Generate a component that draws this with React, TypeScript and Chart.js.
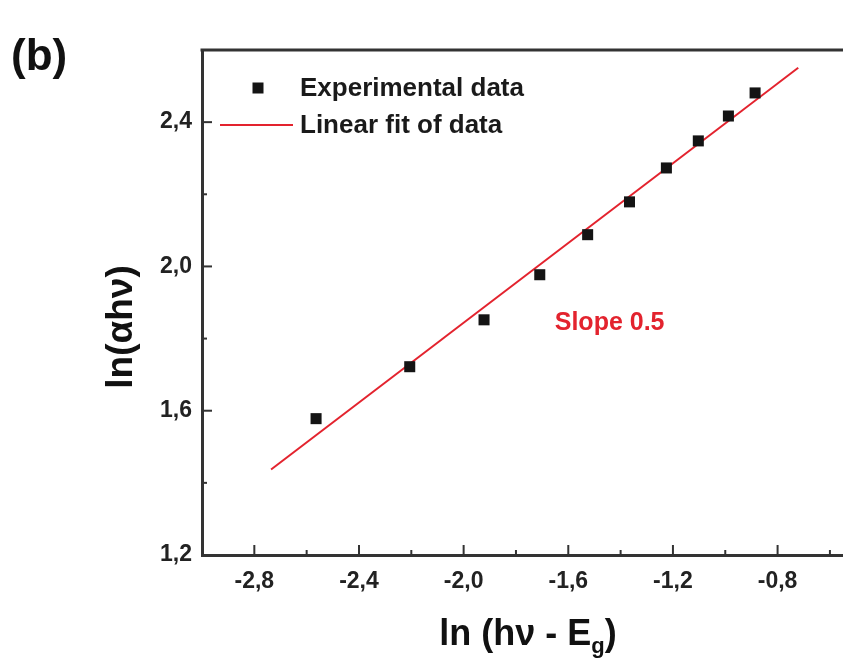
import React, { useEffect, useRef } from "react";
import { Chart, registerables } from "chart.js";

Chart.register(...registerables);

// Experimental data: ln(hν - Eg) vs ln(αhν)
const expX = [-2.564, -2.206, -1.922, -1.709, -1.526, -1.366, -1.225, -1.103, -0.988, -0.886];
const expY = [1.578, 1.722, 1.852, 1.977, 2.088, 2.179, 2.273, 2.348, 2.417, 2.481];

// Linear fit endpoints
const fitX = [-2.736, -0.721];
const fitY = [1.437, 2.551];

const xMajorTicks = [-2.8, -2.4, -2.0, -1.6, -1.2, -0.8];
const xMinorTicks = [-2.6, -2.2, -1.8, -1.4, -1.0, -0.6];
const yMajorTicks = [1.2, 1.6, 2.0, 2.4];
const yMinorTicks = [1.4, 1.8, 2.2];

const xMin = -3.0;
const xMax = -0.55;
const yMin = 1.2;
const yMax = 2.6;

const legendLabels = ["Experimental data", "Linear fit of data"];
const slopeLabel = "Slope 0.5";
const slopeAt = { x: -1.442, y: 1.844 };
const panelLabel = "(b)";

const FONT = '"Liberation Sans", Arial, Helvetica, sans-serif';
const AXIS = "#333333";
const RED = "#e3232e";
const MARK = "#141414";

const fmt = (v: number) => v.toFixed(1).replace(".", ",");

const overlay = {
  id: "overlay",
  afterDraw(chart: any) {
    const { ctx, chartArea } = chart;
    const xs = chart.scales.x;
    const ys = chart.scales.y;
    ctx.save();
    // top frame line
    ctx.strokeStyle = AXIS;
    ctx.lineWidth = 3;
    ctx.beginPath();
    ctx.moveTo(chartArea.left - 1.5, chartArea.top);
    ctx.lineTo(chart.width, chartArea.top);
    ctx.stroke();

    // inward ticks
    ctx.lineWidth = 2;
    const b = chartArea.bottom;
    const l = chartArea.left;
    xMajorTicks.forEach((v) => {
      const p = xs.getPixelForValue(v);
      ctx.beginPath();
      ctx.moveTo(p, b);
      ctx.lineTo(p, b - 10);
      ctx.stroke();
    });
    xMinorTicks.forEach((v) => {
      const p = xs.getPixelForValue(v);
      ctx.beginPath();
      ctx.moveTo(p, b);
      ctx.lineTo(p, b - 5);
      ctx.stroke();
    });
    yMajorTicks.forEach((v) => {
      const p = ys.getPixelForValue(v);
      ctx.beginPath();
      ctx.moveTo(l, p);
      ctx.lineTo(l + 10, p);
      ctx.stroke();
    });
    yMinorTicks.forEach((v) => {
      const p = ys.getPixelForValue(v);
      ctx.beginPath();
      ctx.moveTo(l, p);
      ctx.lineTo(l + 5, p);
      ctx.stroke();
    });

    // legend
    ctx.fillStyle = MARK;
    ctx.fillRect(258 - 5.5, 88 - 5.5, 11, 11);
    ctx.strokeStyle = RED;
    ctx.lineWidth = 2;
    ctx.beginPath();
    ctx.moveTo(220, 125);
    ctx.lineTo(293, 125);
    ctx.stroke();
    ctx.fillStyle = "#1a1a1a";
    ctx.font = `bold 26px ${FONT}`;
    ctx.textAlign = "left";
    ctx.textBaseline = "middle";
    ctx.fillText(legendLabels[0], 300, 89);
    ctx.fillText(legendLabels[1], 300, 126);

    // slope label
    ctx.fillStyle = RED;
    ctx.font = `bold 25px ${FONT}`;
    ctx.textAlign = "center";
    ctx.fillText(slopeLabel, xs.getPixelForValue(slopeAt.x), ys.getPixelForValue(slopeAt.y));

    // panel label
    ctx.fillStyle = "#111";
    ctx.font = `bold 44px ${FONT}`;
    ctx.textAlign = "left";
    ctx.textBaseline = "alphabetic";
    ctx.fillText(panelLabel, 11, 70);

    // y title
    ctx.save();
    ctx.translate(122, 327);
    ctx.rotate(-Math.PI / 2);
    ctx.font = `bold 37px ${FONT}`;
    ctx.textAlign = "center";
    ctx.textBaseline = "middle";
    ctx.fillText("ln(\u03b1h\u03bd)", 0, 0);
    ctx.restore();

    // x title with subscript
    const main1 = "ln (h\u03bd - E";
    const sub = "g";
    const main2 = ")";
    ctx.font = `bold 36px ${FONT}`;
    const w1 = ctx.measureText(main1).width;
    const w3 = ctx.measureText(main2).width;
    ctx.font = `bold 22px ${FONT}`;
    const w2 = ctx.measureText(sub).width;
    const total = w1 + w2 + w3;
    const x0 = 528 - total / 2;
    const base = 645;
    ctx.textAlign = "left";
    ctx.textBaseline = "alphabetic";
    ctx.font = `bold 36px ${FONT}`;
    ctx.fillText(main1, x0, base);
    ctx.font = `bold 22px ${FONT}`;
    ctx.fillText(sub, x0 + w1, base + 8);
    ctx.font = `bold 36px ${FONT}`;
    ctx.fillText(main2, x0 + w1 + w2, base);
    ctx.restore();
  },
};

export default function App() {
  const ref = useRef<HTMLCanvasElement | null>(null);
  useEffect(() => {
    if (!ref.current) return;
    const chart = new Chart(ref.current, {
      type: "scatter",
      data: {
        datasets: [
          {
            label: legendLabels[1],
            data: fitX.map((x, i) => ({ x, y: fitY[i] })),
            showLine: true,
            borderColor: RED,
            borderWidth: 2,
            pointRadius: 0,
            order: 2,
          },
          {
            label: legendLabels[0],
            data: expX.map((x, i) => ({ x, y: expY[i] })),
            showLine: false,
            pointStyle: "rect",
            pointRadius: 7.8,
            backgroundColor: MARK,
            borderWidth: 0,
            order: 1,
          },
        ],
      },
      options: {
        responsive: false,
        animation: false,
        layout: { autoPadding: false, padding: { top: 50, right: 0, bottom: 0, left: 0 } },
        plugins: { legend: { display: false }, tooltip: { enabled: false } },
        scales: {
          x: {
            type: "linear",
            min: xMin,
            max: xMax,
            afterBuildTicks: (s: any) => {
              s.ticks = xMajorTicks.map((v) => ({ value: v }));
            },
            afterFit: (s: any) => {
              s.height = 113;
              s.paddingLeft = 0;
              s.paddingRight = 0;
            },
            grid: { display: true, drawOnChartArea: false, drawTicks: false, color: "rgba(0,0,0,0)" },
            border: { display: true, color: AXIS, width: 3 },
            ticks: {
              padding: 13,
              color: "#222",
              font: { family: FONT, size: 23, weight: "bold" },
              callback: (v: any) => fmt(Number(v)),
              maxRotation: 0,
              autoSkip: false,
            },
          },
          y: {
            type: "linear",
            min: yMin,
            max: yMax,
            afterBuildTicks: (s: any) => {
              s.ticks = yMajorTicks.map((v) => ({ value: v }));
            },
            afterFit: (s: any) => {
              s.width = 202;
              s.paddingTop = 0;
              s.paddingBottom = 0;
            },
            grid: { display: true, drawOnChartArea: false, drawTicks: false, color: "rgba(0,0,0,0)" },
            border: { display: true, color: AXIS, width: 3 },
            ticks: {
              padding: 10,
              color: "#222",
              font: { family: FONT, size: 23, weight: "bold" },
              callback: (v: any) => fmt(Number(v)),
              autoSkip: false,
            },
          },
        },
      },
      plugins: [overlay],
    });
    return () => chart.destroy();
  }, []);
  return (
    <div style={{ position: "absolute", left: 0, top: 0, width: 843, height: 668, background: "#fff" }}>
      <canvas ref={ref} width={843} height={668} style={{ display: "block" }} />
    </div>
  );
}
